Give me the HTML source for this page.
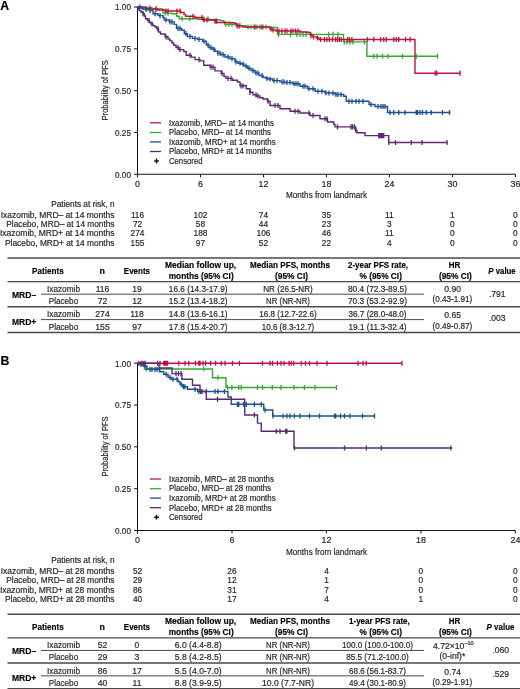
<!DOCTYPE html>
<html><head><meta charset="utf-8"><title>PFS by MRD status</title>
<style>
html,body{margin:0;padding:0;background:#fff;}
body{width:520px;height:689px;overflow:hidden;}
svg{display:block;font-family:"Liberation Sans", sans-serif;will-change:transform;}
</style></head>
<body>
<svg width="520" height="689" viewBox="0 0 520 689">
<rect width="520" height="689" fill="#fff"/>
<line x1="137.5" y1="6.5" x2="137.5" y2="177.3" stroke="#111" stroke-width="1"/>
<line x1="134.1" y1="7.0" x2="137.5" y2="7.0" stroke="#111" stroke-width="1"/>
<text x="131" y="10.3" font-size="8.8" text-anchor="end" textLength="16" lengthAdjust="spacingAndGlyphs" fill="#262626" stroke="#262626" stroke-width="0.18">1.00</text>
<line x1="134.1" y1="48.825" x2="137.5" y2="48.825" stroke="#111" stroke-width="1"/>
<text x="131" y="52.125" font-size="8.8" text-anchor="end" textLength="16" lengthAdjust="spacingAndGlyphs" fill="#262626" stroke="#262626" stroke-width="0.18">0.75</text>
<line x1="134.1" y1="90.65" x2="137.5" y2="90.65" stroke="#111" stroke-width="1"/>
<text x="131" y="93.95" font-size="8.8" text-anchor="end" textLength="16" lengthAdjust="spacingAndGlyphs" fill="#262626" stroke="#262626" stroke-width="0.18">0.50</text>
<line x1="134.1" y1="132.47500000000002" x2="137.5" y2="132.47500000000002" stroke="#111" stroke-width="1"/>
<text x="131" y="135.77500000000003" font-size="8.8" text-anchor="end" textLength="16" lengthAdjust="spacingAndGlyphs" fill="#262626" stroke="#262626" stroke-width="0.18">0.25</text>
<line x1="134.1" y1="174.3" x2="137.5" y2="174.3" stroke="#111" stroke-width="1"/>
<text x="131" y="177.60000000000002" font-size="8.8" text-anchor="end" textLength="16" lengthAdjust="spacingAndGlyphs" fill="#262626" stroke="#262626" stroke-width="0.18">0.00</text>
<line x1="137.5" y1="174.3" x2="515.4" y2="174.3" stroke="#111" stroke-width="1.1"/>
<line x1="137.5" y1="174.3" x2="137.5" y2="177.3" stroke="#111" stroke-width="1"/>
<text x="137.5" y="186.8" font-size="8.9" text-anchor="middle" fill="#262626" stroke="#262626" stroke-width="0.18">0</text>
<line x1="200.48333333333335" y1="174.3" x2="200.48333333333335" y2="177.3" stroke="#111" stroke-width="1"/>
<text x="200.48333333333335" y="186.8" font-size="8.9" text-anchor="middle" fill="#262626" stroke="#262626" stroke-width="0.18">6</text>
<line x1="263.4666666666667" y1="174.3" x2="263.4666666666667" y2="177.3" stroke="#111" stroke-width="1"/>
<text x="263.4666666666667" y="186.8" font-size="8.9" text-anchor="middle" fill="#262626" stroke="#262626" stroke-width="0.18">12</text>
<line x1="326.45" y1="174.3" x2="326.45" y2="177.3" stroke="#111" stroke-width="1"/>
<text x="326.45" y="186.8" font-size="8.9" text-anchor="middle" fill="#262626" stroke="#262626" stroke-width="0.18">18</text>
<line x1="389.43333333333334" y1="174.3" x2="389.43333333333334" y2="177.3" stroke="#111" stroke-width="1"/>
<text x="389.43333333333334" y="186.8" font-size="8.9" text-anchor="middle" fill="#262626" stroke="#262626" stroke-width="0.18">24</text>
<line x1="452.41666666666663" y1="174.3" x2="452.41666666666663" y2="177.3" stroke="#111" stroke-width="1"/>
<text x="452.41666666666663" y="186.8" font-size="8.9" text-anchor="middle" fill="#262626" stroke="#262626" stroke-width="0.18">30</text>
<line x1="515.4" y1="174.3" x2="515.4" y2="177.3" stroke="#111" stroke-width="1"/>
<text x="515.4" y="186.8" font-size="8.9" text-anchor="middle" fill="#262626" stroke="#262626" stroke-width="0.18">36</text>
<text x="326.5" y="198.3" font-size="9.8" text-anchor="middle" textLength="81" lengthAdjust="spacingAndGlyphs" fill="#262626" stroke="#262626" stroke-width="0.18">Months from landmark</text>
<text transform="translate(108.4,90.3) rotate(-90)" font-size="9" text-anchor="middle" textLength="60.2" lengthAdjust="spacingAndGlyphs" fill="#262626" stroke="#262626" stroke-width="0.18">Probability of PFS</text>
<path d="M137.5,7H142V8H145.5V9H163V13.1H171.75V13.75H176.75V16.25H179.25V18.75H198V19.2H210V19.75H220V20.6H223.75V22H224.5V24.4H235V25H237.5V25.6H246V27H269V27.5H277.4V34.4H343.5V41.9H366.9V56.25H437.5" fill="none" stroke="#38a632" stroke-width="1.4"/>
<path d="M147,6.4V11.6M156,6.4V11.6M165,10.5V15.7M168,10.5V15.7M182,16.15V21.35M190,16.15V21.35M204,16.599999999999998V21.8M208,16.599999999999998V21.8M226,21.799999999999997V27.0M229,21.799999999999997V27.0M232,21.799999999999997V27.0M240,23.0V28.200000000000003M248,24.4V29.6M251,24.4V29.6M254,24.4V29.6M257,24.4V29.6M260,24.4V29.6M263,24.4V29.6M266,24.4V29.6M278.5,31.799999999999997V37.0M290.5,31.799999999999997V37.0M296.75,31.799999999999997V37.0M300,31.799999999999997V37.0M303,31.799999999999997V37.0M306,31.799999999999997V37.0M328.75,31.799999999999997V37.0M333,31.799999999999997V37.0M338,31.799999999999997V37.0M344.4,39.3V44.5M347,39.3V44.5M350,39.3V44.5M353,39.3V44.5M364.4,39.3V44.5M373.75,53.65V58.85M377,53.65V58.85M382.5,53.65V58.85M388,53.65V58.85M402.5,53.65V58.85M416.25,53.65V58.85M437.5,53.65V58.85" fill="none" stroke="#38a632" stroke-width="1.3"/>
<path d="M137.5,7H145.5V8H152V9H158V10H165.5V11H180.5V12.5H184V14.4H185.5V16.3H195V17.5H202.5V20H215V21.2H217V22.5H230V22.8H235V23.6H237V26H243V27H270V29H272V30H276V31H300.5V32H308V32.5H310.5V35.6H313V36.9H316.75V38H319V39.5H415V73.2H460.5" fill="none" stroke="#bc143e" stroke-width="1.4"/>
<path d="M150,5.4V10.6M156,6.4V11.6M166,8.4V13.6M168,8.4V13.6M177,8.4V13.6M180,8.4V13.6M193,13.700000000000001V18.900000000000002M202,14.9V20.1M204,17.4V22.6M207,17.4V22.6M215,18.599999999999998V23.8M216.5,18.599999999999998V23.8M237,23.4V28.6M239,23.4V28.6M255,24.4V29.6M262,24.4V29.6M271,26.4V31.6M273,27.4V32.6M279,28.4V33.6M282,28.4V33.6M285,28.4V33.6M287,28.4V33.6M291,28.4V33.6M293,28.4V33.6M295.5,28.4V33.6M298,28.4V33.6M311,33.0V38.2M313.5,34.3V39.5M317.5,35.4V40.6M320.6,36.9V42.1M324.4,36.9V42.1M326.9,36.9V42.1M329.4,36.9V42.1M332.5,36.9V42.1M335.6,36.9V42.1M337.5,36.9V42.1M339.4,36.9V42.1M341.25,36.9V42.1M347.5,36.9V42.1M349.4,36.9V42.1M351.9,36.9V42.1M367.5,36.9V42.1M373.75,36.9V42.1M380.6,36.9V42.1M383.75,36.9V42.1M386.25,36.9V42.1M393.75,36.9V42.1M396.25,36.9V42.1M398.75,36.9V42.1M405.5,36.9V42.1M410,36.9V42.1M435,70.60000000000001V75.8M436.75,70.60000000000001V75.8M460,70.60000000000001V75.8" fill="none" stroke="#bc143e" stroke-width="1.3"/>
<path d="M137.5,7H141V8.2H143V9.4H149.25V10.6H153V13.75H158V15.6H163V17.5H164.25V20H169.25V21.9H174.25V24.4H176.5V28.4H181.75V30.3H184.3V33.7H187.5V36.5H192.5V38.4H197.5V39.4H202.5V41.25H206.25V45H209V47.7H212.5V49.3H215V51.2H217.5V53.1H221V54.7H225V57.0H230V58.7H235V61.8H238V63.2H241.25V64H244V66H247.5V68.2H251V70.5H255V73H259V75.5H263V77.5H266V78.5H268.5V79H272.5V80.6H280V81.9H285V82.5H292.5V83.75H300V86.25H307.5V88.75H315V91.25H325V93H335V94.5H343.75V96.25H346.25V101.25H369V104.5H375V106.5H387.5V112.5H450.5" fill="none" stroke="#1b5193" stroke-width="1.4"/>
<path d="M140,4.4V9.6M146,6.800000000000001V12.0M150,8.0V13.2M155,11.15V16.35M160,13.0V18.2M166,17.4V22.6M170,19.299999999999997V24.5M172,19.299999999999997V24.5M178,25.799999999999997V31.0M180,25.799999999999997V31.0M186,31.1V36.300000000000004M190,33.9V39.1M195,35.8V41.0M199,36.8V42.0M204,38.65V43.85M208,42.4V47.6M211,45.1V50.300000000000004M214,46.699999999999996V51.9M218,50.5V55.7M220,50.5V55.7M223,52.1V57.300000000000004M228,54.4V59.6M232,56.1V61.300000000000004M236,59.199999999999996V64.39999999999999M240,60.6V65.8M243,61.4V66.6M246,63.4V68.6M249,65.60000000000001V70.8M253,67.9V73.1M256,70.4V75.6M258,70.4V75.6M262,72.9V78.1M267,75.9V81.1M270,76.4V81.6M274,78.0V83.19999999999999M277,78.0V83.19999999999999M282,79.30000000000001V84.5M284,79.30000000000001V84.5M287,79.9V85.1M290,79.9V85.1M294,81.15V86.35M296,81.15V86.35M298,81.15V86.35M303,83.65V88.85M305,83.65V88.85M309,86.15V91.35M313,86.15V91.35M318,88.65V93.85M322,88.65V93.85M326,90.4V95.6M329,90.4V95.6M333,90.4V95.6M336,91.9V97.1M338,91.9V97.1M341,91.9V97.1M349,98.65V103.85M352,98.65V103.85M356,98.65V103.85M359,98.65V103.85M363,98.65V103.85M371,101.9V107.1M378,103.9V109.1M381,103.9V109.1M383,103.9V109.1M385,103.9V109.1M390,109.9V115.1M393.75,109.9V115.1M398.75,109.9V115.1M405,109.9V115.1M416.25,109.9V115.1M417.5,109.9V115.1M420,109.9V115.1M422.5,109.9V115.1M426.25,109.9V115.1M431.25,109.9V115.1M442.5,109.9V115.1M449.5,109.9V115.1" fill="none" stroke="#1b5193" stroke-width="1.3"/>
<path d="M137.5,7H138.5V8.5H139.25V10.6H141V12H143V13.75H144.3V16H145.5V18.75H147.5V20.5H149.25V22.5H151V24H153V25.6H155V27H156.75V28.75H158.5V32.0H160.5V34.0H165V36.8H168V39.0H170V40.9H172V43.0H173.75V45.25H176V47.5H178.75V49.6H183.75V51.5H186.25V55.25H191.25V57.1H195V59.6H200V60.9H203.75V65.25H210V67.1H215V70.9H221.25V73.4H224V76.5H226V78.4H232.5V80.25H237.5V82.05H240V85.8H246.25V88.8H250V92.3H253V94.8H256.25V96H260V97.8H263V99H267.5V101.25H270V105.5H280V108.75H290V111.25H300V113H310V115.5H320V118.75H327.5V122H333.75V124.4H335V126.9H355.6V130H356.9V132.75H365V135.6H388.75V142.5H447.5" fill="none" stroke="#5a2a70" stroke-width="1.4"/>
<path d="M143,11.15V16.35M149,17.9V23.1M152,21.4V26.6M158,26.15V31.35M166,34.199999999999996V39.4M178,44.9V50.1M180,47.0V52.2M190,52.65V57.85M199,57.0V62.2M211,64.5V69.69999999999999M213,64.5V69.69999999999999M222,70.80000000000001V76.0M228,75.80000000000001V81.0M231,75.80000000000001V81.0M241,83.2V88.39999999999999M243,83.2V88.39999999999999M250,89.7V94.89999999999999M256,92.2V97.39999999999999M258,93.4V98.6M268,98.65V103.85M275,102.9V108.1M278,102.9V108.1M295,108.65V113.85M298,108.65V113.85M309,110.4V115.6M313,112.9V118.1M325,116.15V121.35M327,116.15V121.35M337.5,124.30000000000001V129.5M351,124.30000000000001V129.5M352.5,124.30000000000001V129.5M354.4,124.30000000000001V129.5M355.6,127.4V132.6M378.75,133.0V138.2M380,133.0V138.2M381.25,133.0V138.2M382.5,133.0V138.2M383.75,133.0V138.2M388.75,139.9V145.1M395.5,139.9V145.1M411.25,139.9V145.1M422,139.9V145.1M447,139.9V145.1" fill="none" stroke="#5a2a70" stroke-width="1.3"/>
<line x1="150" y1="122.8" x2="161" y2="122.8" stroke="#bc143e" stroke-width="1.3"/>
<text x="169" y="125.6" font-size="8.2" textLength="104.8" lengthAdjust="spacingAndGlyphs" fill="#262626" stroke="#262626" stroke-width="0.18">Ixazomib, MRD&#8211; at 14 months</text>
<line x1="150" y1="132.5" x2="161" y2="132.5" stroke="#38a632" stroke-width="1.3"/>
<text x="169" y="134.8" font-size="8.2" textLength="102.0" lengthAdjust="spacingAndGlyphs" fill="#262626" stroke="#262626" stroke-width="0.18">Placebo, MRD&#8211; at 14 months</text>
<line x1="150" y1="141.9" x2="161" y2="141.9" stroke="#1b5193" stroke-width="1.3"/>
<text x="169" y="144.7" font-size="8.2" textLength="106.6" lengthAdjust="spacingAndGlyphs" fill="#262626" stroke="#262626" stroke-width="0.18">Ixazomib, MRD+ at 14 months</text>
<line x1="150" y1="151.5" x2="161" y2="151.5" stroke="#5a2a70" stroke-width="1.3"/>
<text x="169" y="154.4" font-size="8.2" textLength="102.8" lengthAdjust="spacingAndGlyphs" fill="#262626" stroke="#262626" stroke-width="0.18">Placebo, MRD+ at 14 months</text>
<path d="M156.5,158.6V163.4M154.1,161H158.9" stroke="#111" stroke-width="1.4"/>
<text x="169" y="163.5" font-size="8.2" textLength="33.5" lengthAdjust="spacingAndGlyphs" fill="#262626" stroke="#262626" stroke-width="0.18">Censored</text>
<text x="114.5" y="206.75" font-size="8.2" text-anchor="end" textLength="63.2" lengthAdjust="spacingAndGlyphs" fill="#262626" stroke="#262626" stroke-width="0.18">Patients at risk, n</text>
<text x="114.5" y="217.5" font-size="8.3" text-anchor="end" textLength="113.8" lengthAdjust="spacingAndGlyphs" fill="#262626" stroke="#262626" stroke-width="0.18">Ixazomib, MRD&#8211; at 14 months</text>
<text x="137.5" y="217.5" font-size="8.3" text-anchor="middle" fill="#262626" stroke="#262626" stroke-width="0.18">116</text>
<text x="200.48333333333335" y="217.5" font-size="8.3" text-anchor="middle" fill="#262626" stroke="#262626" stroke-width="0.18">102</text>
<text x="263.4666666666667" y="217.5" font-size="8.3" text-anchor="middle" fill="#262626" stroke="#262626" stroke-width="0.18">74</text>
<text x="326.45" y="217.5" font-size="8.3" text-anchor="middle" fill="#262626" stroke="#262626" stroke-width="0.18">35</text>
<text x="389.43333333333334" y="217.5" font-size="8.3" text-anchor="middle" fill="#262626" stroke="#262626" stroke-width="0.18">11</text>
<text x="452.41666666666663" y="217.5" font-size="8.3" text-anchor="middle" fill="#262626" stroke="#262626" stroke-width="0.18">1</text>
<text x="515.4" y="217.5" font-size="8.3" text-anchor="middle" fill="#262626" stroke="#262626" stroke-width="0.18">0</text>
<text x="114.5" y="226.75" font-size="8.3" text-anchor="end" textLength="108.2" lengthAdjust="spacingAndGlyphs" fill="#262626" stroke="#262626" stroke-width="0.18">Placebo, MRD&#8211; at 14 months</text>
<text x="137.5" y="226.75" font-size="8.3" text-anchor="middle" fill="#262626" stroke="#262626" stroke-width="0.18">72</text>
<text x="200.48333333333335" y="226.75" font-size="8.3" text-anchor="middle" fill="#262626" stroke="#262626" stroke-width="0.18">58</text>
<text x="263.4666666666667" y="226.75" font-size="8.3" text-anchor="middle" fill="#262626" stroke="#262626" stroke-width="0.18">44</text>
<text x="326.45" y="226.75" font-size="8.3" text-anchor="middle" fill="#262626" stroke="#262626" stroke-width="0.18">23</text>
<text x="389.43333333333334" y="226.75" font-size="8.3" text-anchor="middle" fill="#262626" stroke="#262626" stroke-width="0.18">3</text>
<text x="452.41666666666663" y="226.75" font-size="8.3" text-anchor="middle" fill="#262626" stroke="#262626" stroke-width="0.18">0</text>
<text x="515.4" y="226.75" font-size="8.3" text-anchor="middle" fill="#262626" stroke="#262626" stroke-width="0.18">0</text>
<text x="114.5" y="236.25" font-size="8.3" text-anchor="end" textLength="114.5" lengthAdjust="spacingAndGlyphs" fill="#262626" stroke="#262626" stroke-width="0.18">Ixazomib, MRD+ at 14 months</text>
<text x="137.5" y="236.25" font-size="8.3" text-anchor="middle" fill="#262626" stroke="#262626" stroke-width="0.18">274</text>
<text x="200.48333333333335" y="236.25" font-size="8.3" text-anchor="middle" fill="#262626" stroke="#262626" stroke-width="0.18">188</text>
<text x="263.4666666666667" y="236.25" font-size="8.3" text-anchor="middle" fill="#262626" stroke="#262626" stroke-width="0.18">106</text>
<text x="326.45" y="236.25" font-size="8.3" text-anchor="middle" fill="#262626" stroke="#262626" stroke-width="0.18">46</text>
<text x="389.43333333333334" y="236.25" font-size="8.3" text-anchor="middle" fill="#262626" stroke="#262626" stroke-width="0.18">11</text>
<text x="452.41666666666663" y="236.25" font-size="8.3" text-anchor="middle" fill="#262626" stroke="#262626" stroke-width="0.18">0</text>
<text x="515.4" y="236.25" font-size="8.3" text-anchor="middle" fill="#262626" stroke="#262626" stroke-width="0.18">0</text>
<text x="114.5" y="245.5" font-size="8.3" text-anchor="end" textLength="109.5" lengthAdjust="spacingAndGlyphs" fill="#262626" stroke="#262626" stroke-width="0.18">Placebo, MRD+ at 14 months</text>
<text x="137.5" y="245.5" font-size="8.3" text-anchor="middle" fill="#262626" stroke="#262626" stroke-width="0.18">155</text>
<text x="200.48333333333335" y="245.5" font-size="8.3" text-anchor="middle" fill="#262626" stroke="#262626" stroke-width="0.18">97</text>
<text x="263.4666666666667" y="245.5" font-size="8.3" text-anchor="middle" fill="#262626" stroke="#262626" stroke-width="0.18">52</text>
<text x="326.45" y="245.5" font-size="8.3" text-anchor="middle" fill="#262626" stroke="#262626" stroke-width="0.18">22</text>
<text x="389.43333333333334" y="245.5" font-size="8.3" text-anchor="middle" fill="#262626" stroke="#262626" stroke-width="0.18">4</text>
<text x="452.41666666666663" y="245.5" font-size="8.3" text-anchor="middle" fill="#262626" stroke="#262626" stroke-width="0.18">0</text>
<text x="515.4" y="245.5" font-size="8.3" text-anchor="middle" fill="#262626" stroke="#262626" stroke-width="0.18">0</text>
<line x1="7.5" y1="258" x2="520" y2="258" stroke="#4a4a4a" stroke-width="1.3"/>
<line x1="7.5" y1="281.6" x2="520" y2="281.6" stroke="#4a4a4a" stroke-width="1.1"/>
<line x1="41" y1="294.2" x2="424" y2="294.2" stroke="#4a4a4a" stroke-width="1.0"/>
<line x1="7.5" y1="306.8" x2="520" y2="306.8" stroke="#4a4a4a" stroke-width="1.4"/>
<line x1="41" y1="319.6" x2="424" y2="319.6" stroke="#4a4a4a" stroke-width="1.0"/>
<line x1="7.5" y1="332.5" x2="520" y2="332.5" stroke="#4a4a4a" stroke-width="1.4"/>
<text x="47.9" y="273.8" font-size="8.9" text-anchor="middle" font-weight="bold" textLength="31.7" lengthAdjust="spacingAndGlyphs" fill="#000" stroke="#000" stroke-width="0.15">Patients</text>
<text x="102.2" y="273.8" font-size="8.9" text-anchor="middle" font-weight="bold" fill="#000" stroke="#000" stroke-width="0.15">n</text>
<text x="136.9" y="273.8" font-size="8.9" text-anchor="middle" font-weight="bold" textLength="26.2" lengthAdjust="spacingAndGlyphs" fill="#000" stroke="#000" stroke-width="0.15">Events</text>
<text x="200.6" y="268.0" font-size="8.9" text-anchor="middle" font-weight="bold" textLength="71.2" lengthAdjust="spacingAndGlyphs" fill="#000" stroke="#000" stroke-width="0.15">Median follow up,</text>
<text x="201.2" y="278.7" font-size="8.9" text-anchor="middle" font-weight="bold" textLength="65" lengthAdjust="spacingAndGlyphs" fill="#000" stroke="#000" stroke-width="0.15">months (95% CI)</text>
<text x="290" y="268.0" font-size="8.9" text-anchor="middle" font-weight="bold" textLength="80" lengthAdjust="spacingAndGlyphs" fill="#000" stroke="#000" stroke-width="0.15">Median PFS, months</text>
<text x="291.5" y="278.7" font-size="8.9" text-anchor="middle" font-weight="bold" textLength="33" lengthAdjust="spacingAndGlyphs" fill="#000" stroke="#000" stroke-width="0.15">(95% CI)</text>
<text x="378" y="268.0" font-size="8.9" text-anchor="middle" font-weight="bold" textLength="60" lengthAdjust="spacingAndGlyphs" fill="#000" stroke="#000" stroke-width="0.15">2-year PFS rate,</text>
<text x="380.7" y="278.7" font-size="8.9" text-anchor="middle" font-weight="bold" textLength="42.5" lengthAdjust="spacingAndGlyphs" fill="#000" stroke="#000" stroke-width="0.15">% (95% CI)</text>
<text x="454.6" y="268.0" font-size="8.9" text-anchor="middle" font-weight="bold" textLength="11.6" lengthAdjust="spacingAndGlyphs" fill="#000" stroke="#000" stroke-width="0.15">HR</text>
<text x="455.4" y="278.7" font-size="8.9" text-anchor="middle" font-weight="bold" textLength="33" lengthAdjust="spacingAndGlyphs" fill="#000" stroke="#000" stroke-width="0.15">(95% CI)</text>
<text x="502" y="273.8" font-size="8.9" text-anchor="middle" font-weight="bold" fill="#000" stroke="#000" stroke-width="0.15" textLength="27.3" lengthAdjust="spacingAndGlyphs"><tspan font-style="italic">P</tspan> value</text>
<text x="24.1" y="298.2" font-size="9" text-anchor="middle" font-weight="bold" textLength="24.3" lengthAdjust="spacingAndGlyphs" fill="#000" stroke="#000" stroke-width="0.15">MRD&#8211;</text>
<text x="24.1" y="324.6" font-size="9" text-anchor="middle" font-weight="bold" textLength="24.3" lengthAdjust="spacingAndGlyphs" fill="#000" stroke="#000" stroke-width="0.15">MRD+</text>
<text x="63.5" y="291.7" font-size="8.6" text-anchor="middle" textLength="33" lengthAdjust="spacingAndGlyphs" fill="#262626" stroke="#262626" stroke-width="0.18">Ixazomib</text>
<text x="102.5" y="291.7" font-size="8.6" text-anchor="middle" fill="#262626" stroke="#262626" stroke-width="0.18">116</text>
<text x="137" y="291.7" font-size="8.6" text-anchor="middle" fill="#262626" stroke="#262626" stroke-width="0.18">19</text>
<text x="198.2" y="291.7" font-size="8.6" text-anchor="middle" textLength="58.7" lengthAdjust="spacingAndGlyphs" fill="#262626" stroke="#262626" stroke-width="0.18">16.6 (14.3-17.9)</text>
<text x="288" y="291.7" font-size="8.6" text-anchor="middle" textLength="49.5" lengthAdjust="spacingAndGlyphs" fill="#262626" stroke="#262626" stroke-width="0.18">NR (26.5-NR)</text>
<text x="377.5" y="291.7" font-size="8.6" text-anchor="middle" textLength="59" lengthAdjust="spacingAndGlyphs" fill="#262626" stroke="#262626" stroke-width="0.18">80.4 (72.3-89.5)</text>
<text x="63.5" y="304.0" font-size="8.6" text-anchor="middle" textLength="29.3" lengthAdjust="spacingAndGlyphs" fill="#262626" stroke="#262626" stroke-width="0.18">Placebo</text>
<text x="102.5" y="304.0" font-size="8.6" text-anchor="middle" fill="#262626" stroke="#262626" stroke-width="0.18">72</text>
<text x="137" y="304.0" font-size="8.6" text-anchor="middle" fill="#262626" stroke="#262626" stroke-width="0.18">12</text>
<text x="198.2" y="304.0" font-size="8.6" text-anchor="middle" textLength="58.7" lengthAdjust="spacingAndGlyphs" fill="#262626" stroke="#262626" stroke-width="0.18">15.2 (13.4-18.2)</text>
<text x="288" y="304.0" font-size="8.6" text-anchor="middle" textLength="43.8" lengthAdjust="spacingAndGlyphs" fill="#262626" stroke="#262626" stroke-width="0.18">NR (NR-NR)</text>
<text x="377.5" y="304.0" font-size="8.6" text-anchor="middle" textLength="59" lengthAdjust="spacingAndGlyphs" fill="#262626" stroke="#262626" stroke-width="0.18">70.3 (53.2-92.9)</text>
<text x="63.5" y="317.3" font-size="8.6" text-anchor="middle" textLength="33" lengthAdjust="spacingAndGlyphs" fill="#262626" stroke="#262626" stroke-width="0.18">Ixazomib</text>
<text x="102.5" y="317.3" font-size="8.6" text-anchor="middle" fill="#262626" stroke="#262626" stroke-width="0.18">274</text>
<text x="137" y="317.3" font-size="8.6" text-anchor="middle" fill="#262626" stroke="#262626" stroke-width="0.18">118</text>
<text x="198.2" y="317.3" font-size="8.6" text-anchor="middle" textLength="58.7" lengthAdjust="spacingAndGlyphs" fill="#262626" stroke="#262626" stroke-width="0.18">14.8 (13.6-16.1)</text>
<text x="288" y="317.3" font-size="8.6" text-anchor="middle" textLength="57.5" lengthAdjust="spacingAndGlyphs" fill="#262626" stroke="#262626" stroke-width="0.18">16.8 (12.7-22.6)</text>
<text x="377.5" y="317.3" font-size="8.6" text-anchor="middle" textLength="58" lengthAdjust="spacingAndGlyphs" fill="#262626" stroke="#262626" stroke-width="0.18">36.7 (28.0-48.0)</text>
<text x="63.5" y="329.6" font-size="8.6" text-anchor="middle" textLength="29.3" lengthAdjust="spacingAndGlyphs" fill="#262626" stroke="#262626" stroke-width="0.18">Placebo</text>
<text x="102.5" y="329.6" font-size="8.6" text-anchor="middle" fill="#262626" stroke="#262626" stroke-width="0.18">155</text>
<text x="137" y="329.6" font-size="8.6" text-anchor="middle" fill="#262626" stroke="#262626" stroke-width="0.18">97</text>
<text x="198.2" y="329.6" font-size="8.6" text-anchor="middle" textLength="58.7" lengthAdjust="spacingAndGlyphs" fill="#262626" stroke="#262626" stroke-width="0.18">17.8 (15.4-20.7)</text>
<text x="288" y="329.6" font-size="8.6" text-anchor="middle" textLength="52.5" lengthAdjust="spacingAndGlyphs" fill="#262626" stroke="#262626" stroke-width="0.18">10.6 (8.3-12.7)</text>
<text x="377.5" y="329.6" font-size="8.6" text-anchor="middle" textLength="58" lengthAdjust="spacingAndGlyphs" fill="#262626" stroke="#262626" stroke-width="0.18">19.1 (11.3-32.4)</text>
<text x="452.7" y="292.3" font-size="8.6" text-anchor="middle" fill="#262626" stroke="#262626" stroke-width="0.18">0.90</text>
<text x="452.4" y="302.3" font-size="8.6" text-anchor="middle" textLength="39.8" lengthAdjust="spacingAndGlyphs" fill="#262626" stroke="#262626" stroke-width="0.18">(0.43-1.91)</text>
<text x="497.3" y="296.8" font-size="8.6" text-anchor="middle" fill="#262626" stroke="#262626" stroke-width="0.18">.791</text>
<text x="452.7" y="318.4" font-size="8.6" text-anchor="middle" fill="#262626" stroke="#262626" stroke-width="0.18">0.65</text>
<text x="452.4" y="328.5" font-size="8.6" text-anchor="middle" textLength="39.8" lengthAdjust="spacingAndGlyphs" fill="#262626" stroke="#262626" stroke-width="0.18">(0.49-0.87)</text>
<text x="497.3" y="321.2" font-size="8.6" text-anchor="middle" fill="#262626" stroke="#262626" stroke-width="0.18">.003</text>
<line x1="137.5" y1="362.7" x2="137.5" y2="533.5" stroke="#111" stroke-width="1"/>
<line x1="134.1" y1="363.2" x2="137.5" y2="363.2" stroke="#111" stroke-width="1"/>
<text x="131" y="366.5" font-size="8.8" text-anchor="end" textLength="16" lengthAdjust="spacingAndGlyphs" fill="#262626" stroke="#262626" stroke-width="0.18">1.00</text>
<line x1="134.1" y1="405.025" x2="137.5" y2="405.025" stroke="#111" stroke-width="1"/>
<text x="131" y="408.325" font-size="8.8" text-anchor="end" textLength="16" lengthAdjust="spacingAndGlyphs" fill="#262626" stroke="#262626" stroke-width="0.18">0.75</text>
<line x1="134.1" y1="446.85" x2="137.5" y2="446.85" stroke="#111" stroke-width="1"/>
<text x="131" y="450.15000000000003" font-size="8.8" text-anchor="end" textLength="16" lengthAdjust="spacingAndGlyphs" fill="#262626" stroke="#262626" stroke-width="0.18">0.50</text>
<line x1="134.1" y1="488.675" x2="137.5" y2="488.675" stroke="#111" stroke-width="1"/>
<text x="131" y="491.975" font-size="8.8" text-anchor="end" textLength="16" lengthAdjust="spacingAndGlyphs" fill="#262626" stroke="#262626" stroke-width="0.18">0.25</text>
<line x1="134.1" y1="530.5" x2="137.5" y2="530.5" stroke="#111" stroke-width="1"/>
<text x="131" y="533.8" font-size="8.8" text-anchor="end" textLength="16" lengthAdjust="spacingAndGlyphs" fill="#262626" stroke="#262626" stroke-width="0.18">0.00</text>
<line x1="137.5" y1="530.5" x2="515.4" y2="530.5" stroke="#111" stroke-width="1.1"/>
<line x1="137.5" y1="530.5" x2="137.5" y2="533.5" stroke="#111" stroke-width="1"/>
<text x="137.5" y="543.0" font-size="8.9" text-anchor="middle" fill="#262626" stroke="#262626" stroke-width="0.18">0</text>
<line x1="231.975" y1="530.5" x2="231.975" y2="533.5" stroke="#111" stroke-width="1"/>
<text x="231.975" y="543.0" font-size="8.9" text-anchor="middle" fill="#262626" stroke="#262626" stroke-width="0.18">6</text>
<line x1="326.45" y1="530.5" x2="326.45" y2="533.5" stroke="#111" stroke-width="1"/>
<text x="326.45" y="543.0" font-size="8.9" text-anchor="middle" fill="#262626" stroke="#262626" stroke-width="0.18">12</text>
<line x1="420.92499999999995" y1="530.5" x2="420.92499999999995" y2="533.5" stroke="#111" stroke-width="1"/>
<text x="420.92499999999995" y="543.0" font-size="8.9" text-anchor="middle" fill="#262626" stroke="#262626" stroke-width="0.18">18</text>
<line x1="515.4" y1="530.5" x2="515.4" y2="533.5" stroke="#111" stroke-width="1"/>
<text x="515.4" y="543.0" font-size="8.9" text-anchor="middle" fill="#262626" stroke="#262626" stroke-width="0.18">24</text>
<text x="326.5" y="554.5" font-size="9.8" text-anchor="middle" textLength="81" lengthAdjust="spacingAndGlyphs" fill="#262626" stroke="#262626" stroke-width="0.18">Months from landmark</text>
<text transform="translate(108.4,446.5) rotate(-90)" font-size="9" text-anchor="middle" textLength="60.2" lengthAdjust="spacingAndGlyphs" fill="#262626" stroke="#262626" stroke-width="0.18">Probability of PFS</text>
<path d="M137.5,363.25H144.4V369H212.5V377.75H226V387.5H337" fill="none" stroke="#38a632" stroke-width="1.4"/>
<path d="M146.25,366.4V371.6M160,366.4V371.6M203.75,366.4V371.6M218,375.15V380.35M227.5,384.9V390.1M231.9,384.9V390.1M238.75,384.9V390.1M241.25,384.9V390.1M257.5,384.9V390.1M262.5,384.9V390.1M272.25,384.9V390.1M281,384.9V390.1M294,384.9V390.1M304.4,384.9V390.1M315,384.9V390.1M336.5,384.9V390.1" fill="none" stroke="#38a632" stroke-width="1.3"/>
<path d="M137.5,363.25H402" fill="none" stroke="#bc143e" stroke-width="1.4"/>
<path d="M138.75,360.65V365.85M141.25,360.65V365.85M143.75,360.65V365.85M157.5,360.65V365.85M160,360.65V365.85M163.75,360.65V365.85M165,360.65V365.85M166.25,360.65V365.85M167.5,360.65V365.85M178.75,360.65V365.85M185,360.65V365.85M188.75,360.65V365.85M195.6,360.65V365.85M198.75,360.65V365.85M200,360.65V365.85M203.1,360.65V365.85M205.6,360.65V365.85M210.6,360.65V365.85M215.6,360.65V365.85M221.25,360.65V365.85M225,360.65V365.85M232.5,360.65V365.85M239.4,360.65V365.85M262.5,360.65V365.85M270,360.65V365.85M272.5,360.65V365.85M277.5,360.65V365.85M281,360.65V365.85M284,360.65V365.85M289,360.65V365.85M291.25,360.65V365.85M293.75,360.65V365.85M301.25,360.65V365.85M305.5,360.65V365.85M309.5,360.65V365.85M317,360.65V365.85M327,360.65V365.85M358,360.65V365.85M363,360.65V365.85M366.25,360.65V365.85M402,360.65V365.85" fill="none" stroke="#bc143e" stroke-width="1.3"/>
<path d="M137.5,363.25H140V364.5H143V366H147V369.3H159.4V371.75H163.75V374.25H168V377.4H171.25V379.25H178V381.75H180V384.25H182.5V386.75H187.5V389.25H197.5V391.5H228V397H231.25V404.3H263.75V410H272.75V416H375" fill="none" stroke="#1b5193" stroke-width="1.4"/>
<path d="M141,361.9V367.1M145,363.4V368.6M150,366.7V371.90000000000003M152,366.7V371.90000000000003M155,366.7V371.90000000000003M157,366.7V371.90000000000003M166,371.65V376.85M170,374.79999999999995V380.0M173,376.65V381.85M177,376.65V381.85M181,381.65V386.85M183.5,384.15V389.35M185,384.15V389.35M195,386.65V391.85M198.75,388.9V394.1M206.25,388.9V394.1M215,388.9V394.1M218,388.9V394.1M224.4,388.9V394.1M237.5,401.7V406.90000000000003M238.75,401.7V406.90000000000003M243.75,401.7V406.90000000000003M246.25,401.7V406.90000000000003M254.4,401.7V406.90000000000003M261.25,401.7V406.90000000000003M265,407.4V412.6M273.1,413.4V418.6M283.1,413.4V418.6M286.9,413.4V418.6M290,413.4V418.6M294.4,413.4V418.6M300,413.4V418.6M309.5,413.4V418.6M319.5,413.4V418.6M334.5,413.4V418.6M335.75,413.4V418.6M340.5,413.4V418.6M344.5,413.4V418.6M350,413.4V418.6M362.5,413.4V418.6M374.5,413.4V418.6" fill="none" stroke="#1b5193" stroke-width="1.3"/>
<path d="M137.5,363.25H159V368H172V373.6H181.9V379.25H192.5V385.2H200V391.5H206.25V399.3H244.75V415H257.5V423.1H261.25V431.25H294V448H452.3" fill="none" stroke="#5a2a70" stroke-width="1.4"/>
<path d="M142,360.65V365.85M145,360.65V365.85M176,371.0V376.20000000000005M178.5,371.0V376.20000000000005M181,371.0V376.20000000000005M200.5,388.9V394.1M202,388.9V394.1M217.5,396.7V401.90000000000003M254.4,412.4V417.6M276.25,428.65V433.85M280,428.65V433.85M285.6,428.65V433.85M286.9,428.65V433.85M294.5,445.4V450.6M344.5,445.4V450.6M366.25,445.4V450.6M381.25,445.4V450.6M450.8,445.4V450.6" fill="none" stroke="#5a2a70" stroke-width="1.3"/>
<line x1="150" y1="479.0" x2="161" y2="479.0" stroke="#bc143e" stroke-width="1.3"/>
<text x="169" y="481.79999999999995" font-size="8.2" textLength="104.8" lengthAdjust="spacingAndGlyphs" fill="#262626" stroke="#262626" stroke-width="0.18">Ixazomib, MRD&#8211; at 28 months</text>
<line x1="150" y1="488.7" x2="161" y2="488.7" stroke="#38a632" stroke-width="1.3"/>
<text x="169" y="491.0" font-size="8.2" textLength="102.0" lengthAdjust="spacingAndGlyphs" fill="#262626" stroke="#262626" stroke-width="0.18">Placebo, MRD&#8211; at 28 months</text>
<line x1="150" y1="498.1" x2="161" y2="498.1" stroke="#1b5193" stroke-width="1.3"/>
<text x="169" y="500.9" font-size="8.2" textLength="106.6" lengthAdjust="spacingAndGlyphs" fill="#262626" stroke="#262626" stroke-width="0.18">Ixazomib, MRD+ at 28 months</text>
<line x1="150" y1="507.7" x2="161" y2="507.7" stroke="#5a2a70" stroke-width="1.3"/>
<text x="169" y="510.6" font-size="8.2" textLength="102.8" lengthAdjust="spacingAndGlyphs" fill="#262626" stroke="#262626" stroke-width="0.18">Placebo, MRD+ at 28 months</text>
<path d="M156.5,514.8V519.6M154.1,517.2H158.9" stroke="#111" stroke-width="1.4"/>
<text x="169" y="519.7" font-size="8.2" textLength="33.5" lengthAdjust="spacingAndGlyphs" fill="#262626" stroke="#262626" stroke-width="0.18">Censored</text>
<text x="114.5" y="563.25" font-size="8.2" text-anchor="end" textLength="63.2" lengthAdjust="spacingAndGlyphs" fill="#262626" stroke="#262626" stroke-width="0.18">Patients at risk, n</text>
<text x="114.5" y="574.0" font-size="8.3" text-anchor="end" textLength="113.8" lengthAdjust="spacingAndGlyphs" fill="#262626" stroke="#262626" stroke-width="0.18">Ixazomib, MRD&#8211; at 28 months</text>
<text x="137.5" y="574.0" font-size="8.3" text-anchor="middle" fill="#262626" stroke="#262626" stroke-width="0.18">52</text>
<text x="231.975" y="574.0" font-size="8.3" text-anchor="middle" fill="#262626" stroke="#262626" stroke-width="0.18">26</text>
<text x="326.45" y="574.0" font-size="8.3" text-anchor="middle" fill="#262626" stroke="#262626" stroke-width="0.18">4</text>
<text x="420.92499999999995" y="574.0" font-size="8.3" text-anchor="middle" fill="#262626" stroke="#262626" stroke-width="0.18">0</text>
<text x="515.4" y="574.0" font-size="8.3" text-anchor="middle" fill="#262626" stroke="#262626" stroke-width="0.18">0</text>
<text x="114.5" y="583.25" font-size="8.3" text-anchor="end" textLength="108.2" lengthAdjust="spacingAndGlyphs" fill="#262626" stroke="#262626" stroke-width="0.18">Placebo, MRD&#8211; at 28 months</text>
<text x="137.5" y="583.25" font-size="8.3" text-anchor="middle" fill="#262626" stroke="#262626" stroke-width="0.18">29</text>
<text x="231.975" y="583.25" font-size="8.3" text-anchor="middle" fill="#262626" stroke="#262626" stroke-width="0.18">12</text>
<text x="326.45" y="583.25" font-size="8.3" text-anchor="middle" fill="#262626" stroke="#262626" stroke-width="0.18">1</text>
<text x="420.92499999999995" y="583.25" font-size="8.3" text-anchor="middle" fill="#262626" stroke="#262626" stroke-width="0.18">0</text>
<text x="515.4" y="583.25" font-size="8.3" text-anchor="middle" fill="#262626" stroke="#262626" stroke-width="0.18">0</text>
<text x="114.5" y="592.75" font-size="8.3" text-anchor="end" textLength="114.5" lengthAdjust="spacingAndGlyphs" fill="#262626" stroke="#262626" stroke-width="0.18">Ixazomib, MRD+ at 28 months</text>
<text x="137.5" y="592.75" font-size="8.3" text-anchor="middle" fill="#262626" stroke="#262626" stroke-width="0.18">86</text>
<text x="231.975" y="592.75" font-size="8.3" text-anchor="middle" fill="#262626" stroke="#262626" stroke-width="0.18">31</text>
<text x="326.45" y="592.75" font-size="8.3" text-anchor="middle" fill="#262626" stroke="#262626" stroke-width="0.18">7</text>
<text x="420.92499999999995" y="592.75" font-size="8.3" text-anchor="middle" fill="#262626" stroke="#262626" stroke-width="0.18">0</text>
<text x="515.4" y="592.75" font-size="8.3" text-anchor="middle" fill="#262626" stroke="#262626" stroke-width="0.18">0</text>
<text x="114.5" y="602.0" font-size="8.3" text-anchor="end" textLength="109.5" lengthAdjust="spacingAndGlyphs" fill="#262626" stroke="#262626" stroke-width="0.18">Placebo, MRD+ at 28 months</text>
<text x="137.5" y="602.0" font-size="8.3" text-anchor="middle" fill="#262626" stroke="#262626" stroke-width="0.18">40</text>
<text x="231.975" y="602.0" font-size="8.3" text-anchor="middle" fill="#262626" stroke="#262626" stroke-width="0.18">17</text>
<text x="326.45" y="602.0" font-size="8.3" text-anchor="middle" fill="#262626" stroke="#262626" stroke-width="0.18">4</text>
<text x="420.92499999999995" y="602.0" font-size="8.3" text-anchor="middle" fill="#262626" stroke="#262626" stroke-width="0.18">1</text>
<text x="515.4" y="602.0" font-size="8.3" text-anchor="middle" fill="#262626" stroke="#262626" stroke-width="0.18">0</text>
<line x1="7.5" y1="614.25" x2="520" y2="614.25" stroke="#4a4a4a" stroke-width="1.3"/>
<line x1="7.5" y1="637.85" x2="520" y2="637.85" stroke="#4a4a4a" stroke-width="1.1"/>
<line x1="41" y1="650.45" x2="424" y2="650.45" stroke="#4a4a4a" stroke-width="1.0"/>
<line x1="7.5" y1="663.05" x2="520" y2="663.05" stroke="#4a4a4a" stroke-width="1.4"/>
<line x1="41" y1="675.85" x2="424" y2="675.85" stroke="#4a4a4a" stroke-width="1.0"/>
<line x1="7.5" y1="688.75" x2="520" y2="688.75" stroke="#4a4a4a" stroke-width="1.4"/>
<text x="47.9" y="630.05" font-size="8.9" text-anchor="middle" font-weight="bold" textLength="31.7" lengthAdjust="spacingAndGlyphs" fill="#000" stroke="#000" stroke-width="0.15">Patients</text>
<text x="102.2" y="630.05" font-size="8.9" text-anchor="middle" font-weight="bold" fill="#000" stroke="#000" stroke-width="0.15">n</text>
<text x="136.9" y="630.05" font-size="8.9" text-anchor="middle" font-weight="bold" textLength="26.2" lengthAdjust="spacingAndGlyphs" fill="#000" stroke="#000" stroke-width="0.15">Events</text>
<text x="200.6" y="624.25" font-size="8.9" text-anchor="middle" font-weight="bold" textLength="71.2" lengthAdjust="spacingAndGlyphs" fill="#000" stroke="#000" stroke-width="0.15">Median follow up,</text>
<text x="201.2" y="634.95" font-size="8.9" text-anchor="middle" font-weight="bold" textLength="65" lengthAdjust="spacingAndGlyphs" fill="#000" stroke="#000" stroke-width="0.15">months (95% CI)</text>
<text x="290" y="624.25" font-size="8.9" text-anchor="middle" font-weight="bold" textLength="80" lengthAdjust="spacingAndGlyphs" fill="#000" stroke="#000" stroke-width="0.15">Median PFS, months</text>
<text x="291.5" y="634.95" font-size="8.9" text-anchor="middle" font-weight="bold" textLength="33" lengthAdjust="spacingAndGlyphs" fill="#000" stroke="#000" stroke-width="0.15">(95% CI)</text>
<text x="379.4" y="624.25" font-size="8.9" text-anchor="middle" font-weight="bold" textLength="60.8" lengthAdjust="spacingAndGlyphs" fill="#000" stroke="#000" stroke-width="0.15">1-year PFS rate,</text>
<text x="380.7" y="634.95" font-size="8.9" text-anchor="middle" font-weight="bold" textLength="42.5" lengthAdjust="spacingAndGlyphs" fill="#000" stroke="#000" stroke-width="0.15">% (95% CI)</text>
<text x="454.6" y="624.25" font-size="8.9" text-anchor="middle" font-weight="bold" textLength="11.6" lengthAdjust="spacingAndGlyphs" fill="#000" stroke="#000" stroke-width="0.15">HR</text>
<text x="455.4" y="634.95" font-size="8.9" text-anchor="middle" font-weight="bold" textLength="33" lengthAdjust="spacingAndGlyphs" fill="#000" stroke="#000" stroke-width="0.15">(95% CI)</text>
<text x="500.5" y="630.05" font-size="8.9" text-anchor="middle" font-weight="bold" fill="#000" stroke="#000" stroke-width="0.15" textLength="27.8" lengthAdjust="spacingAndGlyphs"><tspan font-style="italic">P</tspan> value</text>
<text x="24.1" y="654.45" font-size="9" text-anchor="middle" font-weight="bold" textLength="24.3" lengthAdjust="spacingAndGlyphs" fill="#000" stroke="#000" stroke-width="0.15">MRD&#8211;</text>
<text x="24.1" y="680.85" font-size="9" text-anchor="middle" font-weight="bold" textLength="24.3" lengthAdjust="spacingAndGlyphs" fill="#000" stroke="#000" stroke-width="0.15">MRD+</text>
<text x="63.5" y="647.95" font-size="8.6" text-anchor="middle" textLength="33" lengthAdjust="spacingAndGlyphs" fill="#262626" stroke="#262626" stroke-width="0.18">Ixazomib</text>
<text x="102.5" y="647.95" font-size="8.6" text-anchor="middle" fill="#262626" stroke="#262626" stroke-width="0.18">52</text>
<text x="137" y="647.95" font-size="8.6" text-anchor="middle" fill="#262626" stroke="#262626" stroke-width="0.18">0</text>
<text x="198.2" y="647.95" font-size="8.6" text-anchor="middle" fill="#262626" stroke="#262626" stroke-width="0.18">6.0 (4.4-8.8)</text>
<text x="288" y="647.95" font-size="8.6" text-anchor="middle" textLength="43.8" lengthAdjust="spacingAndGlyphs" fill="#262626" stroke="#262626" stroke-width="0.18">NR (NR-NR)</text>
<text x="377.5" y="647.95" font-size="8.6" text-anchor="middle" textLength="71" lengthAdjust="spacingAndGlyphs" fill="#262626" stroke="#262626" stroke-width="0.18">100.0 (100.0-100.0)</text>
<text x="63.5" y="660.25" font-size="8.6" text-anchor="middle" textLength="29.3" lengthAdjust="spacingAndGlyphs" fill="#262626" stroke="#262626" stroke-width="0.18">Placebo</text>
<text x="102.5" y="660.25" font-size="8.6" text-anchor="middle" fill="#262626" stroke="#262626" stroke-width="0.18">29</text>
<text x="137" y="660.25" font-size="8.6" text-anchor="middle" fill="#262626" stroke="#262626" stroke-width="0.18">3</text>
<text x="198.2" y="660.25" font-size="8.6" text-anchor="middle" fill="#262626" stroke="#262626" stroke-width="0.18">5.8 (4.2-8.5)</text>
<text x="288" y="660.25" font-size="8.6" text-anchor="middle" textLength="43.8" lengthAdjust="spacingAndGlyphs" fill="#262626" stroke="#262626" stroke-width="0.18">NR (NR-NR)</text>
<text x="377.5" y="660.25" font-size="8.6" text-anchor="middle" textLength="62.5" lengthAdjust="spacingAndGlyphs" fill="#262626" stroke="#262626" stroke-width="0.18">85.5 (71.2-100.0)</text>
<text x="63.5" y="673.55" font-size="8.6" text-anchor="middle" textLength="33" lengthAdjust="spacingAndGlyphs" fill="#262626" stroke="#262626" stroke-width="0.18">Ixazomib</text>
<text x="102.5" y="673.55" font-size="8.6" text-anchor="middle" fill="#262626" stroke="#262626" stroke-width="0.18">86</text>
<text x="137" y="673.55" font-size="8.6" text-anchor="middle" fill="#262626" stroke="#262626" stroke-width="0.18">17</text>
<text x="198.2" y="673.55" font-size="8.6" text-anchor="middle" fill="#262626" stroke="#262626" stroke-width="0.18">5.5 (4.0-7.0)</text>
<text x="288" y="673.55" font-size="8.6" text-anchor="middle" textLength="43.8" lengthAdjust="spacingAndGlyphs" fill="#262626" stroke="#262626" stroke-width="0.18">NR (NR-NR)</text>
<text x="377.5" y="673.55" font-size="8.6" text-anchor="middle" textLength="57" lengthAdjust="spacingAndGlyphs" fill="#262626" stroke="#262626" stroke-width="0.18">68.6 (56.1-83.7)</text>
<text x="63.5" y="685.85" font-size="8.6" text-anchor="middle" textLength="29.3" lengthAdjust="spacingAndGlyphs" fill="#262626" stroke="#262626" stroke-width="0.18">Placebo</text>
<text x="102.5" y="685.85" font-size="8.6" text-anchor="middle" fill="#262626" stroke="#262626" stroke-width="0.18">40</text>
<text x="137" y="685.85" font-size="8.6" text-anchor="middle" fill="#262626" stroke="#262626" stroke-width="0.18">11</text>
<text x="198.2" y="685.85" font-size="8.6" text-anchor="middle" fill="#262626" stroke="#262626" stroke-width="0.18">8.8 (3.9-9.5)</text>
<text x="288" y="685.85" font-size="8.6" text-anchor="middle" fill="#262626" stroke="#262626" stroke-width="0.18">10.0 (7.7-NR)</text>
<text x="377.5" y="685.85" font-size="8.6" text-anchor="middle" textLength="57" lengthAdjust="spacingAndGlyphs" fill="#262626" stroke="#262626" stroke-width="0.18">49.4 (30.1-80.9)</text>
<text x="453.4" y="648.55" font-size="8.6" text-anchor="middle" fill="#262626" stroke="#262626" stroke-width="0.18">4.72&#215;10<tspan font-size="5.6" dy="-3.4">&#8211;10</tspan></text>
<text x="452.4" y="658.55" font-size="8.6" text-anchor="middle" fill="#262626" stroke="#262626" stroke-width="0.18">(0-inf)*</text>
<text x="500.8" y="653.05" font-size="8.6" text-anchor="middle" fill="#262626" stroke="#262626" stroke-width="0.18">.060</text>
<text x="452.7" y="674.65" font-size="8.6" text-anchor="middle" fill="#262626" stroke="#262626" stroke-width="0.18">0.74</text>
<text x="452.4" y="684.75" font-size="8.6" text-anchor="middle" textLength="39.8" lengthAdjust="spacingAndGlyphs" fill="#262626" stroke="#262626" stroke-width="0.18">(0.29-1.91)</text>
<text x="500.8" y="677.45" font-size="8.6" text-anchor="middle" fill="#262626" stroke="#262626" stroke-width="0.18">.529</text>
<text x="0.3" y="10.2" font-size="12.3" font-weight="bold" fill="#000" stroke="#000" stroke-width="0.15">A</text>
<text x="0.6" y="365.2" font-size="12.3" font-weight="bold" fill="#000" stroke="#000" stroke-width="0.15">B</text>
</svg>
</body></html>
